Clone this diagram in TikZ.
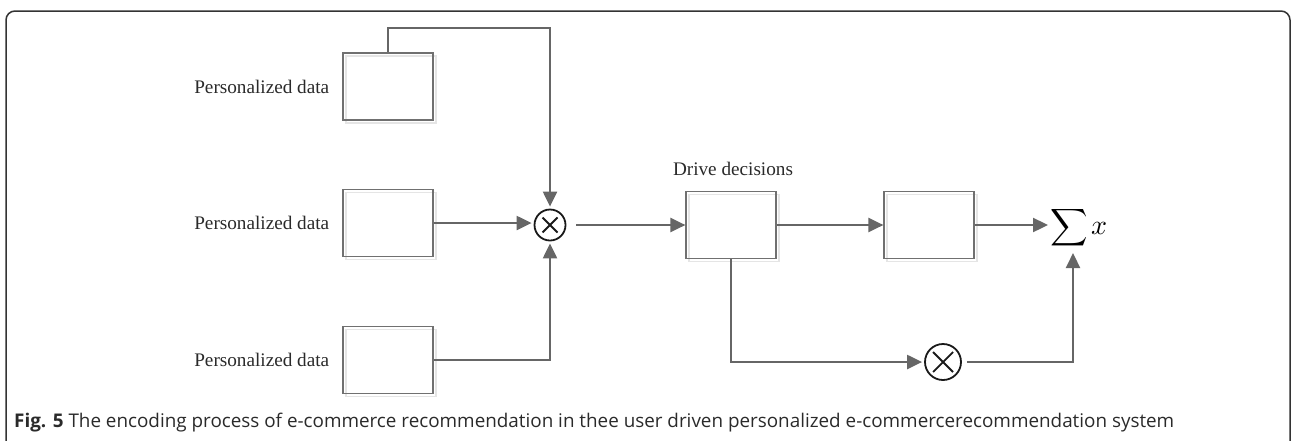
\documentclass[tikz,border=0pt]{standalone}
\usepackage{fontspec}
\setmainfont{Liberation Serif}
\newfontfamily\capfont{Open Sans}
\usetikzlibrary{arrows.meta,shadows,calc}
\definecolor{linegray}{HTML}{666666}
\definecolor{boxgray}{HTML}{707070}
\definecolor{txtgray}{HTML}{2A2A2A}
\begin{document}
\begin{tikzpicture}[x=1pt,y=-1pt,
  box/.style={draw=boxgray,line width=1.2pt,minimum width=90pt,minimum height=67pt,inner sep=0pt,
    general shadow={shadow xshift=3pt,shadow yshift=-3pt,draw=black!10,line width=1.2pt}},
  conn/.style={draw=linegray,line width=2.2pt},
  arr/.style={conn,-{Triangle[length=15pt,width=14pt]}},
  mult/.style n args={2}{circle,draw=black!90,line width=1.8pt,inner sep=0pt,minimum size=#1,
    path picture={\draw[black!90,line width=1.8pt]
      ([shift={(-#2,-#2)}]path picture bounding box.center) -- ([shift={(#2,#2)}]path picture bounding box.center)
      ([shift={(-#2,#2)}]path picture bounding box.center) -- ([shift={(#2,-#2)}]path picture bounding box.center);}},
  lbl/.style={font=\fontsize{19.2}{22}\selectfont,text=txtgray,inner sep=0pt}]
\useasboundingbox (0,0) rectangle (1292,440);
% frame
\draw[line width=1.5pt,black!80,rounded corners=9pt] (6,441) -- (6,11) -- (1290,11) -- (1290,441);
% boxes
\node[box] (b1) at (388,86.5) {};
\node[box] (b2) at (388,223) {};
\node[box] (b3) at (388,360) {};
\node[mult={31pt}{7.5}] (c1) at (550,225) {};
\node[box] (d) at (731,225) {};
\node[box] (b4) at (929,225) {};
\node[mult={36pt}{10}] (c2) at (943,362) {};
\node[inner sep=0pt,text=black] (sig) at (1069,228) {\scalebox{2.6}{$\displaystyle\sum$}};
\node[inner sep=0pt,text=black] (xv) at (1099,228) {\scalebox{2.8}{$x$}};
% labels
\node[lbl,anchor=east] (l1) at ($(b1.west)+(-13,0)$) {Personalized data};
\node[lbl,anchor=east] (l2) at ($(b2.west)+(-13,0)$) {Personalized data};
\node[lbl,anchor=east] (l3) at ($(b3.west)+(-13,0)$) {Personalized data};
\node[lbl,anchor=base] (ld) at ($(d.north)+(2,-15)$) {Drive decisions};
% connectors
\coordinate (top) at (550,28);
\coordinate (sigin) at (1073,253);
\draw[arr,shorten >=2pt] (b1.north) |- (top) -- (c1.north);
\draw[arr,shorten >=2pt] (b2.east) -- (b2.east -| c1.west);
\draw[arr,shorten >=2pt] (b3.east) -| (c1.south);
\draw[arr,shorten <=10pt] (c1.east) -- (d.west);
\draw[arr] (d.east) -- (b4.west);
\draw[arr,shorten >=2pt] (b4.east) -- (b4.east -| sig.west);
\draw[arr,shorten >=2pt] (d.south) |- (c2.west);
\draw[arr,shorten <=5pt] (c2.east) -| (sigin);
% caption
\node[anchor=base west,inner sep=0pt,text=txtgray] (cap) at (14,427)
  {\resizebox{1160pt}{!}{\capfont\textbf{Fig. 5} The encoding process of e-commerce recommendation in thee user driven personalized e-commercerecommendation system}};
\end{tikzpicture}
\end{document}
